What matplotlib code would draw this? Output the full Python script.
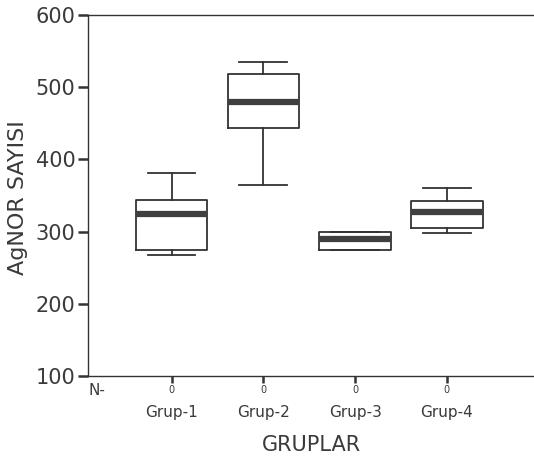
import matplotlib.pyplot as plt
import matplotlib.transforms as mtransforms

plt.rcParams['font.family'] = ['DejaVu Sans']

groups = ["Grup-1", "Grup-2", "Grup-3", "Grup-4"]
n_values = [0, 0, 0, 0]
whis_low = [268, 364, 275, 298]
q1 = [275, 444, 275, 305]
median = [325, 480, 290, 327]
q3 = [344, 518, 300, 342]
whis_high = [381, 535, 300, 361]

stats = []
for i in range(len(groups)):
    stats.append(dict(label=groups[i], whislo=whis_low[i], q1=q1[i], med=median[i],
                      q3=q3[i], whishi=whis_high[i], fliers=[]))

fig = plt.figure(figsize=(5.34, 4.59), dpi=100)
ax = fig.add_axes([0.165, 0.181, 0.835, 0.786])

line_col = "#333333"
txt_col = "#3a3a3a"
positions = list(range(1, len(groups) + 1))
ax.bxp(stats, positions=positions, widths=0.78, showfliers=False,
       boxprops=dict(color=line_col, linewidth=1.3),
       whiskerprops=dict(color=line_col, linewidth=1.3),
       capprops=dict(color=line_col, linewidth=1.3),
       medianprops=dict(color="#3f3f3f", linewidth=4.5, solid_capstyle="butt"),
       capwidths=0.52)

ax.set_xlim(0.09, 4.95)
ax.set_ylim(100, 600)
ax.set_yticks([100, 200, 300, 400, 500, 600])

for s in ["left", "bottom", "top"]:
    ax.spines[s].set_color(line_col)
    ax.spines[s].set_linewidth(1.0)
ax.spines["right"].set_visible(False)

ax.tick_params(axis="y", length=7, width=1.8, color=line_col, labelsize=15,
               labelcolor=txt_col, pad=2)
ax.tick_params(axis="x", length=5, width=1.8, color=line_col, labelsize=11,
               labelcolor=txt_col, pad=16)
ax.set_xticks(positions)
ax.set_xticklabels(groups)

# N counts under each tick
trans = mtransforms.blended_transform_factory(ax.transData, ax.transAxes)
for p, n in zip(positions, n_values):
    ax.text(p, -0.025, str(n), transform=trans, ha="center", va="top",
            fontsize=7, color=txt_col)
ax.text(0.0, -0.02, "N-", transform=ax.transAxes, ha="left", va="top",
        fontsize=11, color=txt_col)

ax.set_ylabel("AgNOR SAYISI", fontsize=16, color=txt_col)
ax.yaxis.set_label_coords(-0.135, 0.495)
ax.set_xlabel("GRUPLAR", fontsize=15, color=txt_col)
ax.xaxis.set_label_coords(0.50, -0.165)

fig.savefig("out.png", dpi=100)
